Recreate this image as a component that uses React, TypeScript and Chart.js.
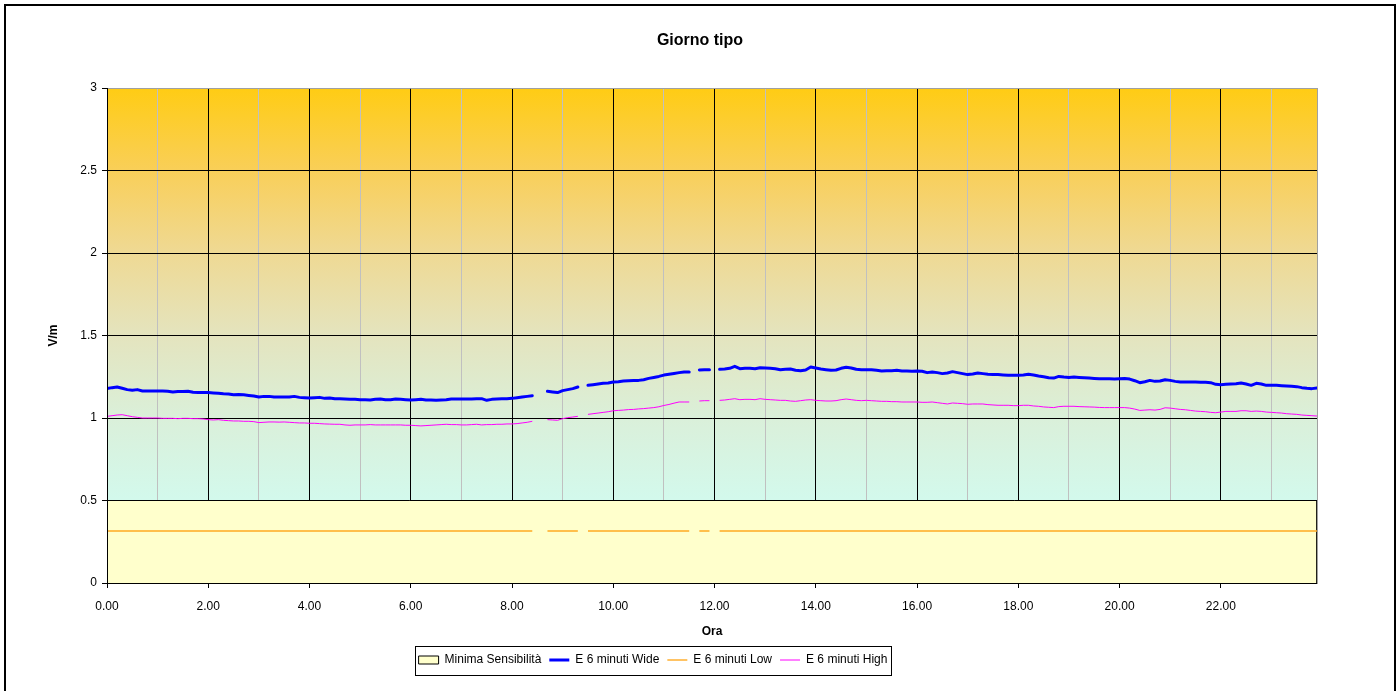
import React, { useEffect, useRef } from 'react';
import { Chart, registerables } from 'chart.js';

Chart.register(...registerables);
Chart.defaults.font.family = "'Liberation Sans', Arial, Helvetica, sans-serif";
Chart.defaults.font.size = 12;
Chart.defaults.color = '#000';

const TITLE = 'Giorno tipo';
const X_TITLE = 'Ora';
const Y_TITLE = 'V/m';
const LABEL_MINIMA = 'Minima Sensibilità';
const LABEL_WIDE = 'E 6 minuti Wide';
const LABEL_LOW = 'E 6 minuti Low';
const LABEL_HIGH = 'E 6 minuti High';

const X_MIN = 0;
const X_MAX = 23.9;
const X_TICK_VALUES = [0, 1, 2, 3, 4, 5, 6, 7, 8, 9, 10, 11, 12, 13, 14, 15, 16, 17, 18, 19, 20, 21, 22, 23];
const Y_MIN = 0;
const Y_MAX = 3;
const Y_STEP = 0.5;

// "Minima Sensibilità" area outline (hours, V/m)
const MINIMA_X = [0, 0, 23.9, 23.9];
const MINIMA_Y = [0, 0.5, 0.5, 0];

// 6-minute samples, 0.0 h .. 23.9 h (10 per hour)
const WIDE = [
  1.178, 1.184, 1.188, 1.180, 1.172, 1.168, 1.172, 1.164, 1.164, 1.164,
  1.164, 1.164, 1.162, 1.158, 1.160, 1.160, 1.162, 1.156, 1.154, 1.154,
  1.154, 1.152, 1.150, 1.147, 1.145, 1.141, 1.143, 1.141, 1.137, 1.133,
  1.127, 1.131, 1.131, 1.127, 1.127, 1.127, 1.127, 1.131, 1.125, 1.123,
  1.121, 1.123, 1.125, 1.119, 1.121, 1.117, 1.117, 1.115, 1.113, 1.113,
  1.111, 1.111, 1.109, 1.113, 1.115, 1.111, 1.111, 1.115, 1.113, 1.111,
  1.109, 1.111, 1.113, 1.109, 1.109, 1.107, 1.109, 1.111, 1.115, 1.115,
  1.115, 1.115, 1.115, 1.117, 1.117, 1.107, 1.113, 1.115, 1.117, 1.117,
  1.119, 1.123, 1.127, 1.131, 1.135, null, null, 1.162, 1.158, 1.154,
  1.166, 1.172, 1.178, 1.188, null, 1.198, 1.202, 1.206, 1.210, 1.212,
  1.218, 1.220, 1.224, 1.226, 1.228, 1.228, 1.232, 1.240, 1.246, 1.252,
  1.260, 1.265, 1.270, 1.275, 1.279, 1.279, null, 1.291, 1.293, 1.293,
  null, 1.295, 1.297, 1.301, 1.313, 1.299, 1.301, 1.301, 1.299, 1.305,
  1.303, 1.301, 1.299, 1.293, 1.295, 1.297, 1.289, 1.287, 1.291, 1.309,
  1.303, 1.297, 1.293, 1.289, 1.291, 1.301, 1.307, 1.303, 1.295, 1.293,
  1.293, 1.293, 1.289, 1.285, 1.287, 1.287, 1.289, 1.285, 1.285, 1.283,
  1.285, 1.283, 1.275, 1.279, 1.275, 1.269, 1.273, 1.281, 1.275, 1.269,
  1.263, 1.267, 1.273, 1.269, 1.265, 1.263, 1.263, 1.261, 1.259, 1.259,
  1.259, 1.261, 1.265, 1.261, 1.255, 1.250, 1.244, 1.242, 1.252, 1.248,
  1.246, 1.248, 1.246, 1.244, 1.242, 1.240, 1.238, 1.238, 1.238, 1.236,
  1.238, 1.240, 1.236, 1.226, 1.214, 1.220, 1.228, 1.222, 1.224, 1.232,
  1.228, 1.222, 1.218, 1.218, 1.218, 1.218, 1.216, 1.216, 1.214, 1.204,
  1.202, 1.204, 1.206, 1.208, 1.212, 1.206, 1.198, 1.210, 1.206, 1.198,
  1.198, 1.198, 1.196, 1.194, 1.192, 1.190, 1.184, 1.180, 1.178, 1.182,
];

const LOW = [
  0.315, 0.315, 0.315, 0.315, 0.315, 0.315, 0.315, 0.315, 0.315, 0.315,
  0.315, 0.315, 0.315, 0.315, 0.315, 0.315, 0.315, 0.315, 0.315, 0.315,
  0.315, 0.315, 0.315, 0.315, 0.315, 0.315, 0.315, 0.315, 0.315, 0.315,
  0.315, 0.315, 0.315, 0.315, 0.315, 0.315, 0.315, 0.315, 0.315, 0.315,
  0.315, 0.315, 0.315, 0.315, 0.315, 0.315, 0.315, 0.315, 0.315, 0.315,
  0.315, 0.315, 0.315, 0.315, 0.315, 0.315, 0.315, 0.315, 0.315, 0.315,
  0.315, 0.315, 0.315, 0.315, 0.315, 0.315, 0.315, 0.315, 0.315, 0.315,
  0.315, 0.315, 0.315, 0.315, 0.315, 0.315, 0.315, 0.315, 0.315, 0.315,
  0.315, 0.315, 0.315, 0.315, 0.315, null, null, 0.315, 0.315, 0.315,
  0.315, 0.315, 0.315, 0.315, null, 0.315, 0.315, 0.315, 0.315, 0.315,
  0.315, 0.315, 0.315, 0.315, 0.315, 0.315, 0.315, 0.315, 0.315, 0.315,
  0.315, 0.315, 0.315, 0.315, 0.315, 0.315, null, 0.315, 0.315, 0.315,
  null, 0.315, 0.315, 0.315, 0.315, 0.315, 0.315, 0.315, 0.315, 0.315,
  0.315, 0.315, 0.315, 0.315, 0.315, 0.315, 0.315, 0.315, 0.315, 0.315,
  0.315, 0.315, 0.315, 0.315, 0.315, 0.315, 0.315, 0.315, 0.315, 0.315,
  0.315, 0.315, 0.315, 0.315, 0.315, 0.315, 0.315, 0.315, 0.315, 0.315,
  0.315, 0.315, 0.315, 0.315, 0.315, 0.315, 0.315, 0.315, 0.315, 0.315,
  0.315, 0.315, 0.315, 0.315, 0.315, 0.315, 0.315, 0.315, 0.315, 0.315,
  0.315, 0.315, 0.315, 0.315, 0.315, 0.315, 0.315, 0.315, 0.315, 0.315,
  0.315, 0.315, 0.315, 0.315, 0.315, 0.315, 0.315, 0.315, 0.315, 0.315,
  0.315, 0.315, 0.315, 0.315, 0.315, 0.315, 0.315, 0.315, 0.315, 0.315,
  0.315, 0.315, 0.315, 0.315, 0.315, 0.315, 0.315, 0.315, 0.315, 0.315,
  0.315, 0.315, 0.315, 0.315, 0.315, 0.315, 0.315, 0.315, 0.315, 0.315,
  0.315, 0.315, 0.315, 0.315, 0.315, 0.315, 0.315, 0.315, 0.315, 0.315,
];

const HIGH = [
  1.010, 1.014, 1.018, 1.020, 1.014, 1.008, 1.004, 1.000, 1.000, 1.000,
  1.000, 0.998, 0.998, 0.998, 0.996, 0.998, 0.998, 0.996, 0.996, 0.994,
  0.990, 0.988, 0.990, 0.986, 0.984, 0.982, 0.982, 0.980, 0.980, 0.978,
  0.972, 0.974, 0.976, 0.976, 0.975, 0.976, 0.974, 0.972, 0.970, 0.970,
  0.968, 0.968, 0.966, 0.964, 0.963, 0.962, 0.962, 0.958, 0.956, 0.958,
  0.958, 0.958, 0.960, 0.958, 0.958, 0.958, 0.958, 0.958, 0.958, 0.956,
  0.956, 0.954, 0.952, 0.954, 0.956, 0.958, 0.960, 0.962, 0.960, 0.960,
  0.958, 0.958, 0.960, 0.962, 0.958, 0.960, 0.960, 0.962, 0.962, 0.964,
  0.964, 0.966, 0.970, 0.974, 0.980, null, null, 0.990, 0.988, 0.986,
  0.996, 1.002, 1.006, 1.010, null, 1.022, 1.026, 1.030, 1.034, 1.038,
  1.044, 1.046, 1.048, 1.051, 1.052, 1.055, 1.057, 1.060, 1.063, 1.068,
  1.076, 1.082, 1.090, 1.097, 1.097, 1.097, null, 1.103, 1.105, 1.105,
  null, 1.107, 1.109, 1.113, 1.117, 1.111, 1.113, 1.113, 1.111, 1.117,
  1.113, 1.111, 1.109, 1.107, 1.107, 1.103, 1.101, 1.105, 1.109, 1.111,
  1.107, 1.105, 1.103, 1.103, 1.105, 1.111, 1.115, 1.111, 1.107, 1.105,
  1.107, 1.105, 1.103, 1.101, 1.101, 1.099, 1.099, 1.097, 1.097, 1.097,
  1.097, 1.095, 1.095, 1.097, 1.093, 1.089, 1.085, 1.091, 1.089, 1.087,
  1.083, 1.085, 1.085, 1.085, 1.081, 1.079, 1.077, 1.077, 1.077, 1.075,
  1.075, 1.077, 1.077, 1.073, 1.071, 1.067, 1.065, 1.063, 1.069, 1.071,
  1.071, 1.071, 1.069, 1.068, 1.067, 1.066, 1.064, 1.063, 1.063, 1.063,
  1.063, 1.063, 1.060, 1.054, 1.046, 1.048, 1.050, 1.048, 1.052, 1.062,
  1.060, 1.056, 1.052, 1.050, 1.046, 1.042, 1.040, 1.038, 1.034, 1.032,
  1.036, 1.040, 1.040, 1.040, 1.044, 1.044, 1.040, 1.042, 1.040, 1.036,
  1.034, 1.032, 1.030, 1.026, 1.024, 1.022, 1.018, 1.016, 1.014, 1.012,
];

// x position (hours) of each 6-minute sample
const HOURS = WIDE.map((_, i) => i / 10);

const GRADIENT_STOPS: [number, string][] = [
  [0, '#FFCC14'],
  [0.17, '#F9CF5A'],
  [0.33, '#EFD993'],
  [0.5, '#E4E4BE'],
  [0.67, '#DAF0DA'],
  [0.83, '#D3F9EC'],
  [1, '#CFFDF6'],
];

const bgPlugin = {
  id: 'plotBackground',
  beforeDraw(chart: any) {
    const { ctx, chartArea: a } = chart;
    if (!a) return;
    const g = ctx.createLinearGradient(0, a.top, 0, a.bottom);
    GRADIENT_STOPS.forEach(([o, c]) => g.addColorStop(o, c));
    ctx.save();
    ctx.fillStyle = g;
    ctx.fillRect(a.left, a.top, a.right - a.left, a.bottom - a.top);
    ctx.restore();
  },
};

const LEGEND_SHIFT = -47;

const legendPlugin = {
  id: 'legendFrame',
  afterUpdate(chart: any) {
    const lg = chart.legend;
    if (!lg) return;
    lg.left += LEGEND_SHIFT;
    lg.right += LEGEND_SHIFT;
    (lg.legendHitBoxes || []).forEach((h: any) => { h.left += LEGEND_SHIFT; });
  },
  afterDraw(chart: any) {
    const hb = chart.legend && chart.legend.legendHitBoxes;
    if (!hb || !hb.length) return;
    const l = Math.min(...hb.map((h: any) => h.left));
    const r = Math.max(...hb.map((h: any) => h.left + h.width));
    const t = hb[0].top;
    const ctx = chart.ctx;
    ctx.save();
    ctx.strokeStyle = '#000';
    ctx.lineWidth = 1;
    ctx.strokeRect(Math.round(l - 4) + 0.5, Math.round(t - 8) + 0.5, Math.round(r - l + 7), 29);
    ctx.restore();
  },
};

export default function App() {
  const canvasRef = useRef<HTMLCanvasElement | null>(null);

  useEffect(() => {
    document.body.style.margin = '0';
    const canvas = canvasRef.current;
    if (!canvas) return;

    const chart = new Chart(canvas, {
      type: 'line',
      data: {
        labels: HOURS,
        datasets: [
          {
            label: LABEL_MINIMA,
            data: MINIMA_X.map((x, i) => ({ x, y: MINIMA_Y[i] })),
            backgroundColor: '#FFFFCC',
            borderColor: '#000000',
            borderWidth: 1,
            fill: 'origin',
            pointRadius: 0,
            pointHoverRadius: 0,
            pointStyle: 'rect',
            tension: 0,
            order: 4,
          },
          {
            label: LABEL_WIDE,
            data: WIDE,
            borderColor: '#0000FF',
            backgroundColor: '#0000FF',
            borderWidth: 3,
            borderCapStyle: 'round',
            borderJoinStyle: 'round',
            fill: false,
            pointRadius: 0,
            pointHoverRadius: 0,
            pointStyle: 'line',
            tension: 0,
            spanGaps: false,
            order: 1,
          },
          {
            label: LABEL_LOW,
            data: LOW,
            borderColor: '#FFAA22',
            backgroundColor: '#FFAA22',
            borderWidth: 1.4,
            fill: false,
            pointRadius: 0,
            pointHoverRadius: 0,
            pointStyle: 'line',
            tension: 0,
            spanGaps: false,
            order: 3,
          },
          {
            label: LABEL_HIGH,
            data: HIGH,
            borderColor: '#FF00FF',
            backgroundColor: '#FF00FF',
            borderWidth: 1,
            fill: false,
            pointRadius: 0,
            pointHoverRadius: 0,
            pointStyle: 'line',
            tension: 0,
            spanGaps: false,
            order: 2,
          },
        ],
      } as any,
      options: {
        responsive: false,
        maintainAspectRatio: false,
        animation: false,
        devicePixelRatio: 1,
        events: [],
        layout: { padding: { top: 0, left: 0, right: 0, bottom: 15 } },
        plugins: {
          title: {
            display: true,
            text: TITLE,
            color: '#000',
            font: { size: 16, weight: 'bold' },
            padding: { top: 31.4, bottom: 37.4 },
          },
          legend: {
            display: true,
            position: 'bottom',
            labels: {
              color: '#000',
              font: { size: 12 },
              usePointStyle: true,
              pointStyleWidth: 20,
              boxHeight: 8,
              padding: 8,
              sort: (a: any, b: any) => a.datasetIndex - b.datasetIndex,
            },
          },
          tooltip: { enabled: false },
        },
        scales: {
          x: {
            type: 'linear',
            min: X_MIN,
            max: X_MAX,
            afterBuildTicks: (s: any) => {
              s.ticks = X_TICK_VALUES.map((v) => ({ value: v }));
            },
            ticks: {
              autoSkip: false,
              maxRotation: 0,
              minRotation: 0,
              padding: 11,
              color: '#000',
              font: { size: 12 },
              callback: (v: any) => (Number(v) % 2 === 0 ? Number(v).toFixed(2) : ''),
            },
            grid: {
              color: (c: any) => (c.tick && c.tick.value % 2 === 0 ? '#000000' : '#C0C0C0'),
              tickColor: (c: any) => (c.tick && c.tick.value % 2 === 0 ? '#000000' : 'rgba(0,0,0,0)'),
              tickLength: 5,
              lineWidth: 1,
            },
            border: { display: true, color: '#000', width: 1, z: 1 },
            title: {
              display: true,
              text: X_TITLE,
              color: '#000',
              font: { size: 12, weight: 'bold' },
              padding: { top: 0, bottom: 7 },
            },
            afterFit: (s: any) => { s.height = 63; },
          },
          y: {
            type: 'linear',
            position: 'left',
            min: Y_MIN,
            max: Y_MAX,
            ticks: {
              stepSize: Y_STEP,
              padding: 5,
              color: '#000',
              font: { size: 12 },
              callback: (v: any) => String(Number(v)),
            },
            grid: {
              color: (c: any) => (c.tick && c.tick.value === Y_MAX ? '#A0A0A0' : '#000000'),
              tickColor: '#000',
              tickLength: 5,
              lineWidth: 1,
            },
            border: { display: true, color: '#000', width: 1, z: 1 },
            title: {
              display: true,
              text: Y_TITLE,
              color: '#000',
              font: { size: 12, weight: 'bold' },
              padding: { top: 46, bottom: 0 },
            },
            afterFit: (s: any) => { s.width = 107; },
          },
          yRight: {
            type: 'linear',
            position: 'right',
            min: Y_MIN,
            max: Y_MAX,
            display: true,
            ticks: { display: false },
            grid: { display: false, drawOnChartArea: false, drawTicks: false },
            border: { display: true, color: '#A0A0A0', width: 1, z: 1 },
            afterFit: (s: any) => { s.width = 83; },
          },
        },
      } as any,
      plugins: [bgPlugin, legendPlugin],
    });

    return () => chart.destroy();
  }, []);

  return (
    <div style={{ position: 'relative', width: 1400, height: 691, overflow: 'hidden', background: '#fff' }}>
      <canvas ref={canvasRef} width={1400} height={691} style={{ display: 'block' }} />
      <div
        style={{
          position: 'absolute',
          left: 4,
          top: 4,
          width: 1388,
          height: 720,
          border: '2px solid #000',
          pointerEvents: 'none',
        }}
      />
    </div>
  );
}
